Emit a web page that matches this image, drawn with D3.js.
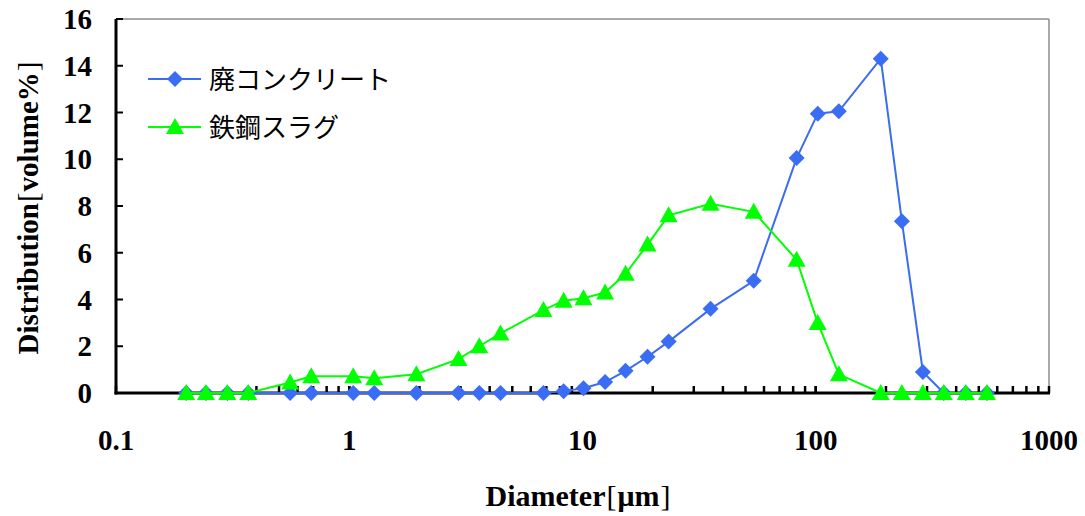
<!DOCTYPE html>
<html><head><meta charset="utf-8">
<script src="https://cdn.jsdelivr.net/npm/d3@7/dist/d3.min.js"></script>
<style>body{margin:0;background:#fff}</style>
</head><body><svg id="c" width="1085" height="516"></svg>
<script>
const diameters = [0.2,0.243,0.3,0.369,0.558,0.687,1.04,1.28,1.94,2.94,3.61,4.45,6.8,8.3,10.1,12.5,15.3,19.0,23.4,35.4,54.2,82.8,102,125.6,190,234,288,354,440,542];
const concrete = [0,0,0,0,0,0,0,0,0,0,0,0,0,0.08,0.2,0.47,0.95,1.55,2.2,3.6,4.8,10.05,11.95,12.05,14.3,7.35,0.9,0,0,0];
const slag = [0,0,0,0,0.45,0.72,0.72,0.63,0.8,1.45,2.0,2.55,3.55,3.95,4.05,4.3,5.1,6.35,7.6,8.1,7.75,5.7,3.0,0.8,0,0,0,0,0,0];
const seriesNames = ["廃コンクリート","鉄鋼スラグ"];
const xTickLabels = ["0.1","1","10","100","1000"];
const yTicks = [0,2,4,6,8,10,12,14,16];

const svg = d3.select("#c");
const L=116,R=1049,T=19,B=393;
const x = d3.scaleLog().domain([0.1,1000]).range([L,R]);
const y = d3.scaleLinear().domain([0,16]).range([B,T]);
const blue="#3a6cf4", green="#00ff00";
const serif="'Liberation Serif','Times New Roman',serif";

// frame top/right
svg.append("line").attr("x1",L).attr("x2",R).attr("y1",T).attr("y2",T).attr("stroke","#8c8c8c").attr("stroke-width",1.5);
svg.append("line").attr("x1",R).attr("x2",R).attr("y1",T).attr("y2",B).attr("stroke","#8c8c8c").attr("stroke-width",1.5);

// x ticks (inward)
const minor=[];
for(let e=-1;e<3;e++){for(let m=1;m<=10;m++){minor.push(m*Math.pow(10,e));}}
svg.append("g").selectAll("line").data(minor).join("line")
 .attr("x1",d=>x(d)).attr("x2",d=>x(d)).attr("y1",B).attr("y2",B-7)
 .attr("stroke","#000").attr("stroke-width",2.5);
svg.append("g").selectAll("text").data(xTickLabels).join("text")
 .attr("x",d=>x(+d)).attr("y",450).attr("text-anchor","middle")
 .attr("font-family",serif).attr("font-weight","bold").attr("font-size",29).text(d=>d);

// y ticks
svg.append("g").selectAll("line").data(yTicks).join("line")
 .attr("x1",L).attr("x2",L+7).attr("y1",d=>y(d)).attr("y2",d=>y(d))
 .attr("stroke","#000").attr("stroke-width",2);
svg.append("g").selectAll("text").data(yTicks).join("text")
 .attr("x",92).attr("y",d=>y(d)+10).attr("text-anchor","end")
 .attr("font-family",serif).attr("font-weight","bold").attr("font-size",29).text(d=>d);

// axes lines
svg.append("line").attr("x1",L).attr("x2",L).attr("y1",T).attr("y2",B+1.5).attr("stroke","#000").attr("stroke-width",3);
svg.append("line").attr("x1",L-1.5).attr("x2",R+1).attr("y1",B).attr("y2",B).attr("stroke","#000").attr("stroke-width",3);

// titles
function title(sel,a,b){
 sel.append("tspan").text(a);
 sel.append("tspan").attr("font-weight","normal").attr("dx",1).text("[");
 sel.append("tspan").attr("dx",1).text(b);
 sel.append("tspan").attr("font-weight","normal").attr("dx",1).text("]");
}
const xt2=svg.append("text").attr("x",578).attr("y",506).attr("text-anchor","middle")
 .attr("font-family",serif).attr("font-weight","bold").attr("font-size",30);
title(xt2,"Diameter","μm");

const yt=svg.append("text").attr("transform","translate(38,208) rotate(-90)").attr("text-anchor","middle")
 .attr("font-family",serif).attr("font-weight","bold").attr("font-size",29);
title(yt,"Distribution","volume%");

// series
const line=d3.line().x(d=>x(d[0])).y(d=>y(d[1]));
const dBlue=diameters.map((d,i)=>[d,concrete[i]]);
const dGreen=diameters.map((d,i)=>[d,slag[i]]);
const diamond="M0,-8L8,0L0,8L-8,0Z";
const tri="M0,-9L9,7L-9,7Z";

svg.append("path").attr("d",line(dBlue)).attr("fill","none").attr("stroke",blue).attr("stroke-width",2);
svg.append("g").selectAll("path").data(dBlue).join("path")
 .attr("d",diamond).attr("transform",d=>`translate(${x(d[0])},${y(d[1])})`).attr("fill",blue);
svg.append("path").attr("d",line(dGreen)).attr("fill","none").attr("stroke",green).attr("stroke-width",2);
svg.append("g").selectAll("path").data(dGreen).join("path")
 .attr("d",tri).attr("transform",d=>`translate(${x(d[0])},${y(d[1])})`).attr("fill",green);

// legend
const lg=[{n:seriesNames[0],c:blue,s:diamond,y:79},{n:seriesNames[1],c:green,s:tri,y:127}];
lg.forEach(l=>{
 svg.append("line").attr("x1",148).attr("x2",201).attr("y1",l.y).attr("y2",l.y).attr("stroke",l.c).attr("stroke-width",2);
 svg.append("path").attr("d",l.s).attr("transform",`translate(175,${l.y})`).attr("fill",l.c);
 svg.append("text").attr("x",209).attr("y",l.y+10).attr("font-family","'Noto Sans CJK JP'").attr("font-size",26).text(l.n);
});
</script></body></html>
